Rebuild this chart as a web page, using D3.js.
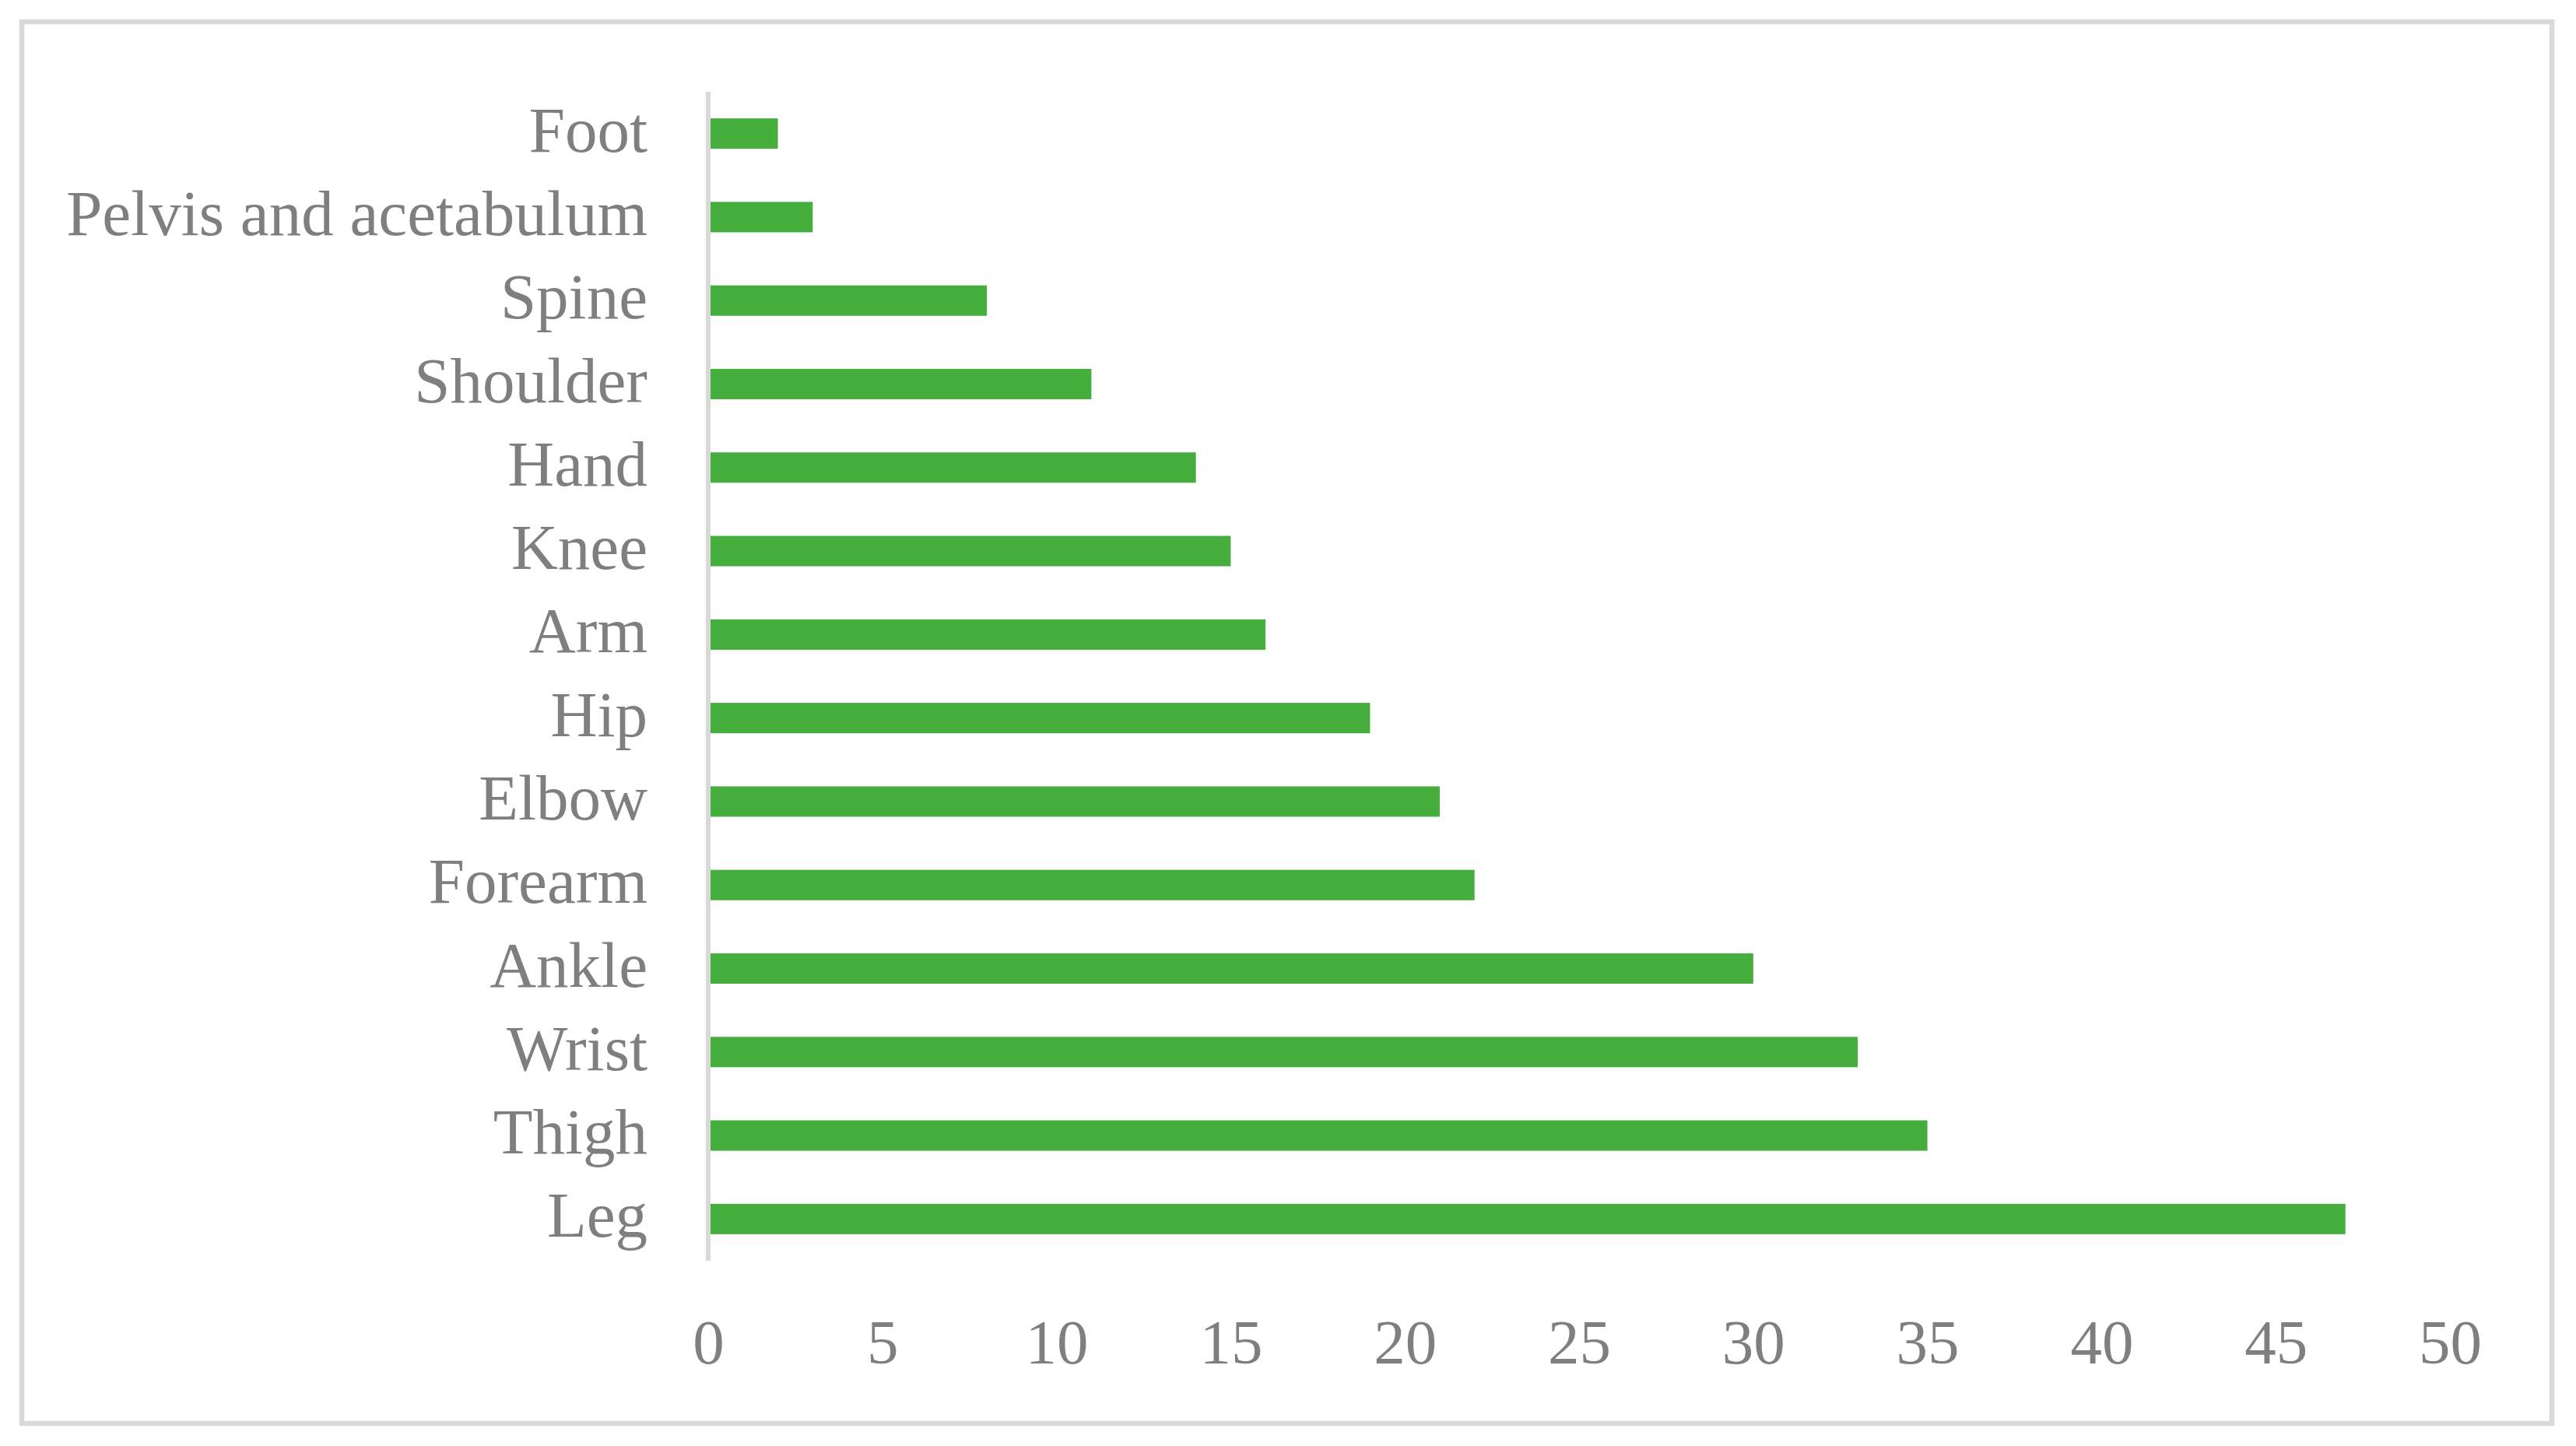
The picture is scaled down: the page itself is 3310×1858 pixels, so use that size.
<!DOCTYPE html>
<html><head><meta charset="utf-8">
<script src="https://cdn.jsdelivr.net/npm/d3@7"></script>
<style>
html,body{margin:0;padding:0;background:#fff;}
svg{display:block;}
</style></head>
<body>
<svg id="chart" width="3310" height="1858"></svg>
<script>
const categories = ["Foot","Pelvis and acetabulum","Spine","Shoulder","Hand","Knee","Arm","Hip","Elbow","Forearm","Ankle","Wrist","Thigh","Leg"];
const values = [2,3,8,11,14,15,16,19,21,22,30,33,35,47];
const xTicks = [0,5,10,15,20,25,30,35,40,45,50];

const svg = d3.select("#chart");
const font = "'Liberation Serif', 'Times New Roman', serif";
const textColor = "#7f7f7f";

// outer border
svg.append("rect").attr("x",28).attr("y",28).attr("width",3251).attr("height",1801)
  .attr("fill","#fff").attr("stroke","#d9d9d9").attr("stroke-width",6.5);

const x = d3.scaleLinear().domain([0,50]).range([910,3148]);
const y = d3.scaleBand().domain(categories).range([118,1620]).paddingInner(0.636).paddingOuter(0.318);

// bars
svg.append("g").selectAll("rect").data(categories).join("rect")
  .attr("x", x(0))
  .attr("y", d => y(d))
  .attr("width", (d,i) => x(values[i]) - x(0))
  .attr("height", y.bandwidth())
  .attr("fill", "#45ae3c");

// vertical axis line
svg.append("line").attr("x1",x(0)).attr("x2",x(0)).attr("y1",118).attr("y2",1620)
  .attr("stroke","#d9d9d9").attr("stroke-width",6);

// category labels
const yAxis = d3.axisLeft(y).tickSize(0).tickPadding(0);
const gy = svg.append("g").attr("transform","translate(832,0)").call(yAxis);
gy.select(".domain").remove();
gy.selectAll("text")
  .attr("x",0).attr("dy",null).attr("y",23)
  .attr("font-family",font).attr("font-size",83).attr("fill",textColor)
  .attr("text-anchor","end");

// x tick labels
const xAxis = d3.axisBottom(x).tickValues(xTicks).tickSize(0).tickPadding(0);
const gx = svg.append("g").attr("transform","translate(0,1752)").call(xAxis);
gx.select(".domain").remove();
gx.selectAll("text")
  .attr("dy",null).attr("y",0)
  .attr("font-family",font).attr("font-size",81).attr("fill",textColor)
  .attr("text-anchor","middle");
</script>
</body></html>
